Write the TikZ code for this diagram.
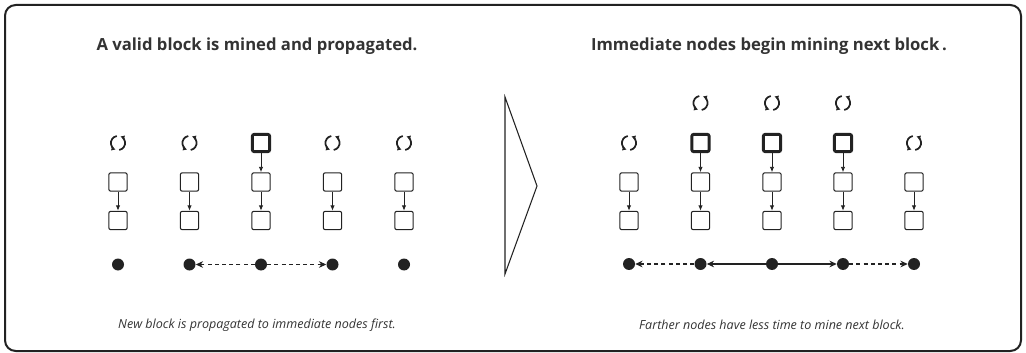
\documentclass[tikz,border=0pt]{standalone}
\usepackage{fontspec}
\setmainfont{Open Sans}
\usetikzlibrary{arrows.meta}
\definecolor{ink}{RGB}{34,34,34}
\definecolor{txt}{RGB}{51,51,51}
\tikzset{
  blk/.style={draw=ink,line width=0.8pt,rounded corners=1.5pt,minimum size=13.8pt,inner sep=0pt},
  bigblk/.style={blk,line width=2.2pt,minimum size=13pt},
  peer/.style={circle,fill=ink,minimum size=9pt,inner sep=0pt},
  link/.style={draw=ink,line width=0.6pt,-{Latex[length=4pt,width=3.2pt]}},
  hop/.style={draw=ink,line width=0.8pt,dash pattern=on 3pt off 2.4pt,-{Stealth[length=5.5pt,width=5pt]}},
  wire/.style={draw=ink,line width=0.8pt,-{Stealth[length=5.5pt,width=5pt]}},
  ttl/.style={text=txt,font=\fontsize{12.5}{15}\selectfont\bfseries},
  note/.style={text=txt,font=\fontsize{9.4}{12}\selectfont\itshape},
  spin/.pic={
    \draw[ink,line width=1.3pt,-{Latex[length=3pt,width=3.8pt]}] (100:5.3pt) arc[start angle=100,end angle=250,radius=5.3pt];
    \draw[ink,line width=1.3pt,-{Latex[length=3pt,width=3.8pt]}] (280:5.3pt) arc[start angle=280,end angle=430,radius=5.3pt];
  }
}
\begin{document}
\begin{tikzpicture}[x=0.75pt,y=0.75pt,yscale=-1,xscale=1]
\useasboundingbox (0,0) rectangle (1026,353);

%Shape: Frame
\draw [ink,line width=1.5pt,rounded corners=8pt] (5,5) rectangle (1021,351);
%Shape: Chevron
\draw [ink,line width=0.8pt,line join=miter] (505,97) -- (537,186) -- (505,274) -- cycle;

% Text Node
\node [ttl] (ttlL) at (257,46) {A valid block is mined and propagated.};
% Text Node
\node [ttl] (ttlR) at (769,46) {Immediate nodes begin mining next block\,.};
% Text Node
\node [note] (noteL) at (257,325) {New block is propagated to immediate nodes first.};
% Text Node
\node [note] (noteR) at (772,325) {Farther nodes have less time to mine next block.};

%Left: column 1
\pic at (118,143) {spin};
\node [blk] (L1a) at (118,182) {};
\node [blk] (L1b) at (118,220.5) {};
\node [peer] (L1p) at (118,264.5) {};
\draw [link] (L1a) -- (L1b);
%Left: column 2
\pic at (189.5,143) {spin};
\node [blk] (L2a) at (189.5,182) {};
\node [blk] (L2b) at (189.5,220.5) {};
\node [peer] (L2p) at (189.5,264.5) {};
\draw [link] (L2a) -- (L2b);
%Left: column 3, the miner
\node [bigblk] (L3n) at (261,143) {};
\node [blk] (L3a) at (261,182) {};
\node [blk] (L3b) at (261,220.5) {};
\node [peer] (L3p) at (261,264.5) {};
\draw [link] (L3n) -- (L3a);
\draw [link] (L3a) -- (L3b);
%Left: column 4
\pic at (332.5,143) {spin};
\node [blk] (L4a) at (332.5,182) {};
\node [blk] (L4b) at (332.5,220.5) {};
\node [peer] (L4p) at (332.5,264.5) {};
\draw [link] (L4a) -- (L4b);
%Left: column 5
\pic at (404,143) {spin};
\node [blk] (L5a) at (404,182) {};
\node [blk] (L5b) at (404,220.5) {};
\node [peer] (L5p) at (404,264.5) {};
\draw [link] (L5a) -- (L5b);
%Left: propagation
\draw [hop] (L3p) -- (L2p);
\draw [hop] (L3p) -- (L4p);

%Right: column 1
\pic at (629,143) {spin};
\node [blk] (R1a) at (629,182) {};
\node [blk] (R1b) at (629,220.5) {};
\node [peer] (R1p) at (629,264) {};
\draw [link] (R1a) -- (R1b);
%Right: column 2
\pic at (700.5,103) {spin};
\node [bigblk] (R2n) at (700.5,143) {};
\node [blk] (R2a) at (700.5,182) {};
\node [blk] (R2b) at (700.5,220.5) {};
\node [peer] (R2p) at (700.5,264) {};
\draw [link] (R2n) -- (R2a);
\draw [link] (R2a) -- (R2b);
%Right: column 3
\pic at (772,103) {spin};
\node [bigblk] (R3n) at (772,143) {};
\node [blk] (R3a) at (772,182) {};
\node [blk] (R3b) at (772,220.5) {};
\node [peer] (R3p) at (772,264) {};
\draw [link] (R3n) -- (R3a);
\draw [link] (R3a) -- (R3b);
%Right: column 4
\pic at (843,103) {spin};
\node [bigblk] (R4n) at (843,143) {};
\node [blk] (R4a) at (843,182) {};
\node [blk] (R4b) at (843,220.5) {};
\node [peer] (R4p) at (843,264) {};
\draw [link] (R4n) -- (R4a);
\draw [link] (R4a) -- (R4b);
%Right: column 5
\pic at (914,143) {spin};
\node [blk] (R5a) at (914,182) {};
\node [blk] (R5b) at (914,220.5) {};
\node [peer] (R5p) at (914,264) {};
\draw [link] (R5a) -- (R5b);
%Right: propagation
\draw [hop] (R2p) -- (R1p);
\draw [wire] (R3p) -- (R2p);
\draw [wire] (R3p) -- (R4p);
\draw [hop] (R4p) -- (R5p);

\end{tikzpicture}
\end{document}
